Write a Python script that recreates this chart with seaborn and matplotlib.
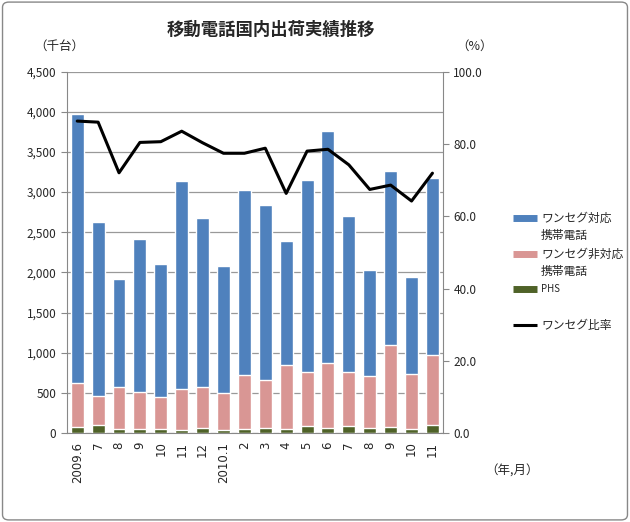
import numpy as np
import pandas as pd
import matplotlib
matplotlib.use('Agg')
import matplotlib.pyplot as plt
from matplotlib.lines import Line2D
from matplotlib.patches import FancyBboxPatch
import seaborn as sns

# data (thousand units, %)
months = ['2009.6', '7', '8', '9', '10', '11', '12', '2010.1', '2', '3',
          '4', '5', '6', '7', '8', '9', '10', '11']
total = [3968, 2629, 1915, 2421, 2106, 3139, 2678, 2081, 3022, 2840,
         2396, 3151, 3760, 2703, 2031, 3267, 1940, 3176]
non_oneseg_top = [622, 460, 580, 518, 452, 556, 580, 506, 730, 659,
                  850, 767, 871, 767, 717, 1095, 742, 974]
phs = [83, 100, 50, 50, 50, 37, 70, 37, 50, 70,
       58, 95, 70, 95, 70, 83, 58, 108]
oneseg_ratio = [86.3, 86.0, 72.0, 80.4, 80.6, 83.5, 80.3, 77.4, 77.4, 78.8,
                66.3, 78.0, 78.5, 74.2, 67.4, 68.6, 64.2, 71.9]
legend_labels = [['ワンセグ対応', '携帯電話'], ['ワンセグ非対応', '携帯電話'],
                 ['PHS'], ['ワンセグ比率']]

blue = '#4F81BD'
pink = '#D99694'
green = '#4F6228'

sns.set_style('white')
plt.rcParams['font.family'] = ['Noto Sans CJK JP', 'DejaVu Sans']

df = pd.DataFrame({'idx': range(len(months)), 'total': total,
                   'pink': non_oneseg_top, 'phs': phs, 'ratio': oneseg_ratio})

fig = plt.figure(figsize=(6.3, 5.22), dpi=100)
ax = fig.add_axes([0.106, 0.170, 0.597, 0.693])

# stacked bars drawn as overlapping cumulative heights
sns.barplot(data=df, x='idx', y='total', color=blue, width=0.62, ax=ax,
            saturation=1, zorder=2)
sns.barplot(data=df, x='idx', y='pink', color=pink, width=0.62, ax=ax,
            saturation=1, zorder=3)
sns.barplot(data=df, x='idx', y='phs', color=green, width=0.62, ax=ax,
            saturation=1, zorder=4)

ax.set_xlim(-0.5, len(months) - 0.5)
ax.set_ylim(0, 4500)
ax.set_yticks(range(0, 4501, 500))
ax.set_yticklabels([f'{v:,}' for v in range(0, 4501, 500)], fontsize=8.5)
ax.set_xticks(range(len(months)))
ax.set_xticklabels(months, rotation=90, fontsize=8.5, family='DejaVu Sans')
ax.set_xticks(np.arange(-0.5, len(months), 1), minor=True)
ax.tick_params(axis='x', which='major', length=0, pad=6)
ax.tick_params(axis='x', which='minor', length=4, color='#888888', direction='out')
ax.tick_params(axis='y', length=4, color='#888888', direction='out', left=True)
ax.set_xlabel('')
ax.set_ylabel('')
ax.grid(axis='y', color='#999999', linewidth=0.9, zorder=0)
ax.set_axisbelow(True)
for s in ['top', 'right']:
    ax.spines[s].set_visible(False)
for s in ['left', 'bottom']:
    ax.spines[s].set_color('#888888')

ax2 = ax.twinx()
sns.lineplot(data=df, x='idx', y='ratio', color='black', linewidth=2.2, ax=ax2)
ax2.set_ylim(0, 100)
ax2.set_yticks(range(0, 101, 20))
ax2.set_yticklabels([f'{v:.1f}' for v in range(0, 101, 20)], fontsize=8.5)
ax2.tick_params(axis='y', length=4, color='#888888', direction='out', right=True)
ax2.set_ylabel('')
ax2.set_xlabel('')
ax2.set_xlim(-0.5, len(months) - 0.5)
for s in ['top', 'left', 'bottom']:
    ax2.spines[s].set_visible(False)
ax2.spines['right'].set_color('#888888')

fig.text(0.43, 0.943, '移動電話国内出荷実績推移', ha='center', va='center',
         fontsize=12.5, fontweight='bold')
fig.text(0.055, 0.912, '（千台）', ha='left', va='center', fontsize=9)
fig.text(0.725, 0.912, '（%）', ha='left', va='center', fontsize=9)
fig.text(0.77, 0.098, '（年,月）', ha='left', va='center', fontsize=9)

# legend laid out by hand so the swatch sits on the first text line
colors = [blue, pink, green, 'black']
widths = [5, 5, 5, 2.2]
sizes = [8.5, 8.5, 7, 8.5]
rows_px = [218, 254, 289, 325]
for lab, col, lw, fs, py in zip(legend_labels, colors, widths, sizes, rows_px):
    yf = 1 - py / 522
    fig.add_artist(Line2D([513 / 630, 537 / 630], [yf, yf], color=col, lw=lw,
                          solid_capstyle='butt', transform=fig.transFigure))
    for k, line in enumerate(lab):
        fig.text(541 / 630, 1 - (py + 17 * k) / 522, line, ha='left',
                 va='center', fontsize=fs)

fig.patches.append(FancyBboxPatch((0.004, 0.004), 0.992, 0.992,
                                  boxstyle='round,pad=0,rounding_size=0.01',
                                  transform=fig.transFigure, fill=False,
                                  edgecolor='#888888', linewidth=1))

fig.savefig('out.png', dpi=100)
